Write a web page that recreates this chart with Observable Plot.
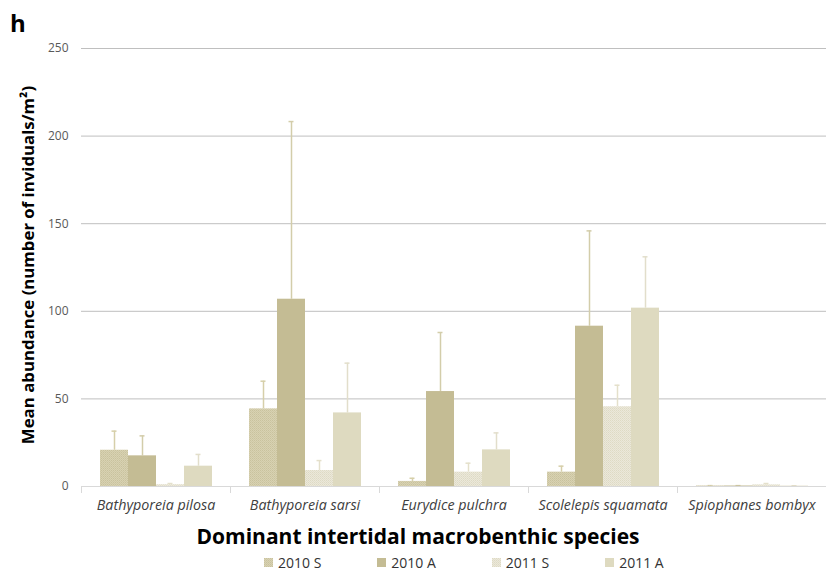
<!DOCTYPE html>
<html>
<head>
<meta charset="utf-8">
<script src="https://cdn.jsdelivr.net/npm/d3@7"></script>
<script src="https://cdn.jsdelivr.net/npm/@observablehq/plot@0.6"></script>
<style>
  html, body { margin: 0; padding: 0; background: #fff; }
  #wrap { position: relative; width: 826px; height: 574px; font-family: "Open Sans", sans-serif; }
  #panel { position: absolute; left: 10px; top: 6px; font: bold 24px "Open Sans", sans-serif; color: #000; }
  #ytitle { position: absolute; left: 27px; top: 265px; transform: translate(-50%, -50%) rotate(-90deg); white-space: nowrap; font: bold 16.8px "Open Sans", sans-serif; color: #000; }
  #xtitle { position: absolute; left: 418px; top: 536px; transform: translate(-50%, -50%); white-space: nowrap; font: bold 21px "Open Sans", sans-serif; color: #000; }
  #chart { position: absolute; left: 0; top: 0; }
  #legend { position: absolute; left: 264px; top: 552px; }
  #legend > div { font-family: "Open Sans", sans-serif !important; font-size: 14px !important; color: #333 !important; min-height: 20px !important; margin: 0 !important; }
  #legend span { margin-right: 56px !important; }
  #legend svg { margin-right: 5px !important; }
</style>
</head>
<body>
<svg width="0" height="0" style="position:absolute">
  <defs>
    <pattern id="p10S" width="2" height="2" patternUnits="userSpaceOnUse">
      <rect width="2" height="2" fill="#d8d2b2"></rect>
      <rect width="1" height="1" fill="#c9c29e"></rect>
      <rect x="1" y="1" width="1" height="1" fill="#cfc8a6"></rect>
    </pattern>
    <pattern id="p11S" width="2" height="2" patternUnits="userSpaceOnUse">
      <rect width="2" height="2" fill="#ebe8da"></rect>
      <rect width="1" height="1" fill="#dedac4"></rect>
      <rect x="1" y="1" width="1" height="1" fill="#e3dfcc"></rect>
    </pattern>
  </defs>
</svg>
<div id="wrap">
  <div id="chart"></div>
  <div id="panel">h</div>
  <div id="ytitle">Mean abundance (number of inviduals/m²)</div>
  <div id="xtitle">Dominant intertidal macrobenthic species</div>
  <div id="legend"></div>
</div>
<script>
const species = ["Bathyporeia pilosa", "Bathyporeia sarsi", "Eurydice pulchra", "Scolelepis squamata", "Spiophanes bombyx"];
const series = ["2010 S", "2010 A", "2011 S", "2011 A"];
const mean2010S = [20.7, 44.3, 2.9, 8.2, 0.3];
const err2010S  = [10.9, 15.8, 1.8, 3.4, 0.2];
const mean2010A = [17.5, 106.9, 54.2, 91.5, 0.3];
const err2010A  = [11.4, 101.4, 33.7, 54.4, 0.2];
const mean2011S = [1.0, 9.1, 8.2, 45.5, 0.9];
const err2011S  = [0.7, 5.7, 5.1, 12.3, 0.8];
const mean2011A = [11.6, 42.0, 20.9, 101.8, 0.2];
const err2011A  = [6.7, 28.4, 9.7, 29.3, 0.2];
const yTicks = [0, 50, 100, 150, 200, 250];

const fills = ["url(#p10S)", "#c4bc94", "url(#p11S)", "#dedac0"];
const errColors = ["#d6cfa9", "#d3cdaa", "#e4e0cb", "#e2decb"];

const means = [mean2010S, mean2010A, mean2011S, mean2011A];
const errs = [err2010S, err2010A, err2011S, err2011A];
const data = [];
species.forEach((sp, i) => {
  series.forEach((s, j) => {
    data.push({species: sp, series: s, mean: means[j][i], top: means[j][i] + errs[j][i]});
  });
});

const chart = Plot.plot({
  width: 826,
  height: 520,
  marginTop: 48,
  marginBottom: 34,
  marginLeft: 80,
  marginRight: 0,
  style: {fontFamily: "'Open Sans', sans-serif", background: "transparent"},
  fx: {domain: species, padding: 0, label: null},
  x: {domain: series, paddingInner: 0, paddingOuter: 0.66, axis: null},
  y: {domain: [0, 250], label: null},
  color: {domain: series, range: fills},
  marks: [
    Plot.gridY(yTicks.filter(d => d > 0), {stroke: "#bfbfbf", strokeOpacity: 1, strokeWidth: 1}),
    Plot.axisY(yTicks, {tickSize: 0, tickPadding: 13, fontSize: 12, color: "#595959", label: null}),
    Plot.axisFx({anchor: "bottom", tickSize: 0, tickPadding: 13, fontSize: 14.3, fontStyle: "italic", color: "#404040", label: null}),
    Plot.ruleX(data, {fx: "species", x: "series", y1: "mean", y2: "top", stroke: d => errColors[series.indexOf(d.series)], strokeWidth: 1.5}),
    Plot.tickY(data, {fx: "species", x: "series", y: "top", stroke: d => errColors[series.indexOf(d.series)], strokeWidth: 1.5, insetLeft: 11.5, insetRight: 11.5}),
    Plot.barY(data, {fx: "species", x: "series", y: "mean", fill: "series", inset: 0}),
    Plot.ruleY([0], {stroke: "#d9d9d9", strokeWidth: 1}),
    Plot.frame({anchor: "left", stroke: "#d9d9d9", insetTop: 438, insetBottom: -6}),
    Plot.frame({anchor: "right", stroke: "#d9d9d9", insetTop: 438, insetBottom: -6})
  ]
});
document.getElementById("chart").appendChild(chart);

const leg = Plot.legend({color: {domain: series, range: fills}, swatchSize: 9, className: "lg"});
document.getElementById("legend").appendChild(leg);
</script>
</body>
</html>
